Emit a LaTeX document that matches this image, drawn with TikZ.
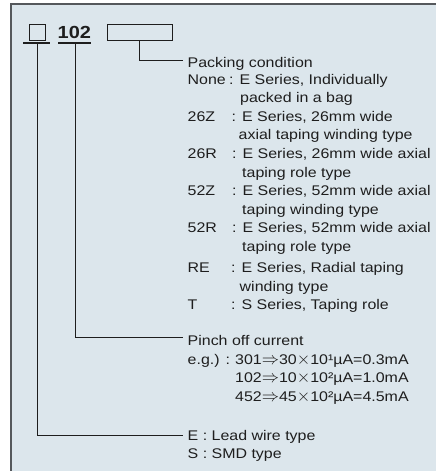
\documentclass[tikz,border=0pt]{standalone}
\usepackage{fontspec}
\setmainfont{Liberation Sans}[FakeStretch=1.14]
\definecolor{panel}{RGB}{220,230,236}
\definecolor{ink}{RGB}{30,30,30}
\definecolor{rim}{RGB}{85,88,92}

\begin{document}
\begin{tikzpicture}[
  x=1pt, y=-1pt,
  txt/.style={anchor=base west, inner sep=0pt, text=ink,
    font=\fontsize{14}{18}\selectfont},
  lead/.style={draw=ink, line width=.8pt},
  bar/.style={draw=ink, line width=2pt},
  box/.style={draw=ink, line width=.8pt, inner sep=0pt},
]
\useasboundingbox (0,0) rectangle (436,471);
\fill[panel] (11,4) rectangle (436,471);
\draw[rim, line width=1.5pt] (11,471) -- (11,4) -- (436,4);

% part number
\node[box, minimum size=16pt] (sq) at (37,32) {};
\node[txt, font=\fontsize{17.5}{20}\selectfont\bfseries] (num) at (57.5,38.5) {102};
\node[box, minimum width=65pt, minimum height=16pt] (opt) at (139.5,32) {};
\draw[bar] (23,43) -- (50,43);
\draw[bar] (58,43) -- (91,43);
\coordinate (typ) at (37,43);
\coordinate (pin) at (75,43);

% packing condition
\node[txt] (pack) at (187.5,67) {Packing condition};
\foreach \code/\cx/\mx/\y/\first/\second in {
  None/229/240/84/{E Series, Individually}/{packed in a bag},
  26Z/231.5/238.5/121.2/{E Series, 26mm wide}/{axial taping winding type},
  26R/232/242/158.4/{E Series, 26mm wide axial}/{taping role type},
  52Z/232/242/195.6/{E Series, 52mm wide axial}/{taping winding type},
  52R/232/242/232.8/{E Series, 52mm wide axial}/{taping role type},
  RE/231/239.5/272.5/{E Series, Radial taping}/{winding type}}
{
  \node[txt] (code-\code) at (187.5,\y) {\code};
  \node[txt] (desc-\code) at (\cx,\y) {: \first};
  \node[txt] (more-\code) at (\mx,\y+18.6) {\second};
}
\node[txt] (code-T) at (187.5,309.5) {T};
\node[txt] (desc-T) at (231,309.5) {: S Series, Taping role};

% pinch off current
\node[txt] (pinch) at (187.5,345) {Pinch off current};
\node[txt] (eg) at (187.5,364) {e.g.) :};
\foreach \src/\base/\pw/\res [count=\i] in {301/30/¹/0.3, 102/10/²/1.0, 452/45/²/4.5}
  \node[txt] (ex-\i) at (235,364+18.5*\i-18.5)
    {\src{\fontsize{16}{16}\selectfont$\Rightarrow$}\base{\fontsize{17}{17}\selectfont$\times$}10\pw µA=\res mA};

% lead type
\node[txt] (wire) at (187.5,440) {E : Lead wire type};
\node[txt] (smd) at (187.5,458) {S : SMD type};

% connectors
\draw[lead] (opt.south) |- ([xshift=-5pt,yshift=3pt]pack.west);
\draw[lead] (pin) |- ([xshift=-5pt,yshift=3pt]pinch.west);
\draw[lead] (typ) |- ([xshift=-5pt,yshift=1pt]wire.west);
\end{tikzpicture}
\end{document}
